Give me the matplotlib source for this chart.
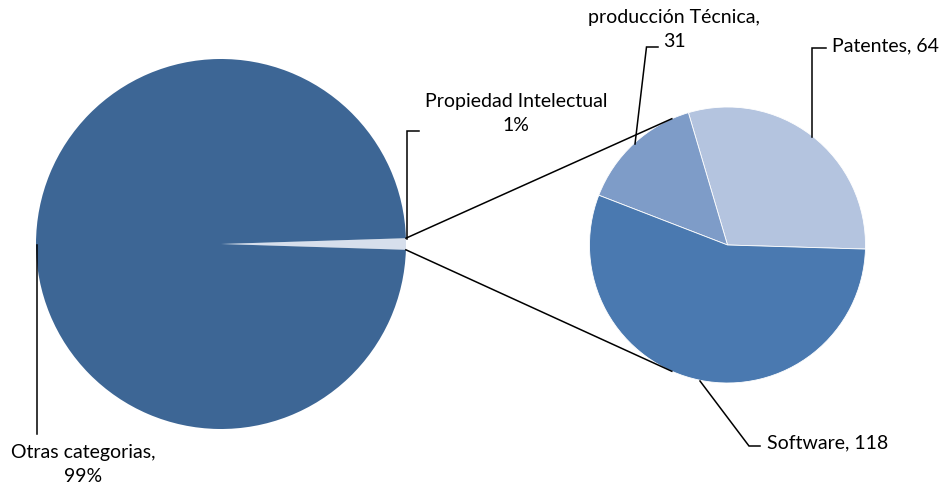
import numpy as np
import matplotlib
matplotlib.use("Agg")
import matplotlib.pyplot as plt

# Data
main_labels = ["Propiedad Intelectual", "Otras categorias"]
main_values = [1, 99]
main_colors = ["#D7DFEC", "#3D6695"]

sub_labels = ["Patentes", "producción Técnica", "Software"]
sub_values = [64, 31, 118]
sub_colors = ["#B4C4DF", "#7E9CC8", "#4A79B0"]

W, H = 942, 489
plt.rcParams['font.family'] = ['Lato', 'DejaVu Sans']

fig = plt.figure(figsize=(W / 100, H / 100), dpi=100)
ax = fig.add_axes([0, 0, 1, 1])
ax.set_xlim(0, W)
ax.set_ylim(0, H)
ax.set_aspect('equal')
ax.axis('off')

def P(px, py):
    return px, H - py

# main pie
c1 = P(221, 245)
r1 = 185
half = main_values[0] / sum(main_values) * 360 / 2
ax.pie(main_values, colors=main_colors, center=c1, radius=r1,
       startangle=-half, counterclock=True,
       wedgeprops=dict(linewidth=0))

# second pie
c2 = P(727.5, 246)
r2 = 138
ax.pie(sub_values, colors=sub_colors, center=c2, radius=r2,
       startangle=-1.7, counterclock=True,
       wedgeprops=dict(linewidth=0.6, edgecolor='white'))

ax.set_xlim(0, W)
ax.set_ylim(0, H)

# connector lines
a = np.deg2rad(half)
p_top = (c1[0] + r1 * np.cos(a), c1[1] + r1 * np.sin(a))
p_bot = (c1[0] + r1 * np.cos(a), c1[1] - r1 * np.sin(a))
b = np.deg2rad(113.8)
q_top = (c2[0] + r2 * np.cos(b), c2[1] + r2 * np.sin(b))
q_bot = (c2[0] + r2 * np.cos(b), c2[1] - r2 * np.sin(b))
ax.plot([p_top[0], q_top[0]], [p_top[1], q_top[1]], color='black', lw=1.1)
ax.plot([p_bot[0], q_bot[0]], [p_bot[1], q_bot[1]], color='black', lw=1.1)

def leader(pts):
    xs, ys = zip(*[P(x, y) for x, y in pts])
    ax.plot(xs, ys, color='black', lw=1.1, solid_joinstyle='miter')

fs = 14
ls = 1.5
# labels
leader([(406.5, 240), (406.5, 131.5), (419, 131.5)])
ax.text(*P(516, 114), "Propiedad Intelectual\n1%", ha='center', va='center',
        fontsize=fs, linespacing=ls)

leader([(37, 246), (37, 435)])
ax.text(*P(83, 465), "Otras categorias,\n99%", ha='center', va='center',
        fontsize=fs, linespacing=ls)

leader([(635, 145), (646.5, 48), (658, 48)])
ax.text(*P(674, 30), "producción Técnica,\n31", ha='center', va='center',
        fontsize=fs, linespacing=ls)

leader([(812, 138), (812, 49), (826, 49)])
ax.text(*P(832, 46), "Patentes, 64", ha='left', va='center', fontsize=fs)

leader([(700, 382), (749, 447), (760, 447)])
ax.text(*P(767, 443), "Software, 118", ha='left', va='center', fontsize=fs)

fig.savefig("out.png", dpi=100)
